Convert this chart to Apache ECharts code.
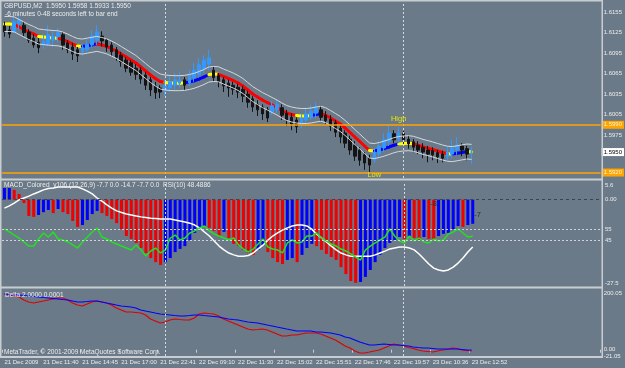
<!DOCTYPE html>
<html><head><meta charset="utf-8">
<script src="https://cdn.jsdelivr.net/npm/echarts@6/dist/echarts.min.js"></script>
<style>html,body{margin:0;padding:0;background:#6b7a88}#c{width:625px;height:368px}</style>
</head><body><div id="c"></div>
<script>
const timeLabels = ["21 Dec 2009","21 Dec 11:40","21 Dec 14:45","21 Dec 17:00","21 Dec 22:41","22 Dec 09:10","22 Dec 11:30","22 Dec 15:02","22 Dec 15:51","22 Dec 17:46","22 Dec 19:57","23 Dec 10:36","23 Dec 12:52"];
// [open, close, low, high]
const candles = [
[1.6135,1.6126,1.6119,1.6141],[1.6129,1.6123,1.6117,1.6135],[1.6126,1.6141,1.6125,1.6151],[1.6138,1.6144,1.6129,1.6149],
[1.6136,1.6125,1.6120,1.6141],[1.6126,1.6114,1.6110,1.6130],[1.6117,1.6107,1.6103,1.6123],[1.6111,1.6103,1.6095,1.6117],
[1.6107,1.6113,1.6101,1.6122],[1.6108,1.6122,1.6105,1.6136],[1.6114,1.6120,1.6104,1.6129],[1.6119,1.6125,1.6111,1.6132],
[1.6122,1.6107,1.6100,1.6126],[1.6110,1.6100,1.6095,1.6114],[1.6104,1.6094,1.6085,1.6110],[1.6100,1.6091,1.6082,1.6104],
[1.6097,1.6103,1.6092,1.6108],[1.6100,1.6108,1.6097,1.6117],[1.6107,1.6120,1.6103,1.6129],[1.6114,1.6126,1.6107,1.6136],
[1.6120,1.6113,1.6105,1.6127],[1.6114,1.6104,1.6097,1.6117],[1.6107,1.6097,1.6091,1.6111],[1.6100,1.6089,1.6084,1.6104],
[1.6092,1.6082,1.6075,1.6097],[1.6085,1.6073,1.6067,1.6089],[1.6081,1.6067,1.6062,1.6085],[1.6073,1.6064,1.6056,1.6079],
[1.6070,1.6057,1.6050,1.6075],[1.6063,1.6048,1.6041,1.6067],[1.6056,1.6041,1.6032,1.6060],[1.6047,1.6037,1.6028,1.6053],
[1.6044,1.6038,1.6029,1.6048],[1.6041,1.6047,1.6032,1.6056],[1.6044,1.6053,1.6038,1.6062],[1.6048,1.6056,1.6041,1.6066],
[1.6051,1.6056,1.6044,1.6067],[1.6056,1.6048,1.6041,1.6060],[1.6051,1.6062,1.6047,1.6070],[1.6059,1.6070,1.6053,1.6081],
[1.6064,1.6078,1.6059,1.6088],[1.6072,1.6085,1.6066,1.6092],[1.6079,1.6088,1.6070,1.6100],[1.6070,1.6059,1.6054,1.6075],
[1.6062,1.6053,1.6045,1.6066],[1.6056,1.6047,1.6038,1.6060],[1.6051,1.6044,1.6031,1.6056],[1.6048,1.6042,1.6034,1.6053],
[1.6045,1.6038,1.6029,1.6050],[1.6042,1.6032,1.6023,1.6047],[1.6035,1.6023,1.6015,1.6040],[1.6028,1.6016,1.6009,1.6032],
[1.6020,1.6012,1.6003,1.6026],[1.6016,1.6006,1.5997,1.6020],[1.6012,1.6000,1.5994,1.6016],[1.6009,1.6018,1.6004,1.6025],
[1.6012,1.6020,1.6007,1.6028],[1.6015,1.6004,1.5997,1.6020],[1.6007,1.5997,1.5988,1.6012],[1.6001,1.5991,1.5982,1.6007],
[1.5997,1.5987,1.5978,1.6001],[1.5991,1.6000,1.5985,1.6007],[1.5997,1.6006,1.5993,1.6015],[1.6001,1.6010,1.5997,1.6019],
[1.6007,1.6015,1.6000,1.6023],[1.6012,1.6001,1.5996,1.6018],[1.6004,1.5996,1.5990,1.6010],[1.5998,1.5988,1.5981,1.6004],
[1.5993,1.5979,1.5972,1.5997],[1.5985,1.5972,1.5963,1.5990],[1.5978,1.5963,1.5956,1.5982],[1.5969,1.5953,1.5946,1.5974],
[1.5960,1.5944,1.5937,1.5966],[1.5953,1.5938,1.5930,1.5957],[1.5946,1.5934,1.5924,1.5950],[1.5941,1.5931,1.5921,1.5946],
[1.5938,1.5950,1.5934,1.5956],[1.5947,1.5959,1.5941,1.5966],[1.5956,1.5968,1.5950,1.5978],[1.5965,1.5978,1.5959,1.5990],
[1.5977,1.5968,1.5963,1.5982],[1.5969,1.5978,1.5963,1.5987],[1.5977,1.5968,1.5960,1.5981],[1.5969,1.5962,1.5955,1.5974],
[1.5965,1.5957,1.5950,1.5969],[1.5960,1.5953,1.5947,1.5966],[1.5957,1.5950,1.5941,1.5963],[1.5953,1.5947,1.5935,1.5959],
[1.5952,1.5946,1.5938,1.5957],[1.5949,1.5943,1.5934,1.5953],[1.5947,1.5941,1.5935,1.5952],[1.5943,1.5949,1.5938,1.5959],
[1.5947,1.5956,1.5941,1.5968],[1.5953,1.5960,1.5946,1.5972],[1.5959,1.5953,1.5944,1.5963],[1.5955,1.5947,1.5938,1.5959],
[1.5950,1.5950,1.5933,1.5958]
];
const ma = [1.61378,1.61378,1.61372,1.61334,1.61297,1.61260,1.61231,1.61194,1.61186,1.61178,1.61172,1.61168,1.61150,1.61120,1.61084,1.61055,1.61047,1.61060,1.61073,1.61086,
1.61070,1.61050,1.61018,1.60982,1.60938,1.60894,1.60850,1.60806,1.60747,1.60689,1.60630,1.60579,1.60535,1.60520,1.60513,1.60510,1.60510,1.60515,1.60527,1.60545,
1.60571,1.60601,1.60637,1.60645,1.60640,1.60608,1.60579,1.60549,1.60513,1.60469,1.60410,1.60351,1.60307,1.60263,1.60227,1.60190,1.60153,1.60110,1.60073,1.60051,
1.60036,1.60029,1.60029,1.60036,1.60050,1.60062,1.60040,1.60000,1.59956,1.59912,1.59853,1.59787,1.59721,1.59655,1.59589,1.59523,1.59515,1.59530,1.59550,1.59574,
1.59600,1.59618,1.59626,1.59630,1.59622,1.59600,1.59576,1.59558,1.59538,1.59516,1.59494,1.59476,1.59470,1.59482,1.59495,1.59508,1.59503];
const envUpper = [1.61488,1.61488,1.61482,1.61444,1.61407,1.61370,1.61341,1.61304,1.61296,1.61288,1.61282,1.61278,1.61260,1.61230,1.61194,1.61165,1.61157,1.61170,1.61183,1.61196,
1.61180,1.61160,1.61128,1.61092,1.61048,1.61004,1.60960,1.60916,1.60857,1.60799,1.60740,1.60689,1.60645,1.60630,1.60623,1.60620,1.60620,1.60625,1.60637,1.60655,
1.60681,1.60711,1.60747,1.60755,1.60750,1.60718,1.60689,1.60659,1.60623,1.60579,1.60520,1.60461,1.60417,1.60373,1.60337,1.60300,1.60263,1.60220,1.60183,1.60161,
1.60146,1.60139,1.60139,1.60146,1.60160,1.60172,1.60150,1.60110,1.60066,1.60022,1.59963,1.59897,1.59831,1.59765,1.59699,1.59633,1.59625,1.59640,1.59660,1.59684,
1.59710,1.59728,1.59736,1.59740,1.59732,1.59710,1.59686,1.59668,1.59648,1.59626,1.59604,1.59586,1.59580,1.59592,1.59605,1.59618,1.59613];
const envLower = [1.61268,1.61268,1.61262,1.61224,1.61187,1.61150,1.61121,1.61084,1.61076,1.61068,1.61062,1.61058,1.61040,1.61010,1.60974,1.60945,1.60937,1.60950,1.60963,1.60976,
1.60960,1.60940,1.60908,1.60872,1.60828,1.60784,1.60740,1.60696,1.60637,1.60579,1.60520,1.60469,1.60425,1.60410,1.60403,1.60400,1.60400,1.60405,1.60417,1.60435,
1.60461,1.60491,1.60527,1.60535,1.60530,1.60498,1.60469,1.60439,1.60403,1.60359,1.60300,1.60241,1.60197,1.60153,1.60117,1.60080,1.60043,1.60000,1.59963,1.59941,
1.59926,1.59919,1.59919,1.59926,1.59940,1.59952,1.59930,1.59890,1.59846,1.59802,1.59743,1.59677,1.59611,1.59545,1.59479,1.59413,1.59405,1.59420,1.59440,1.59464,
1.59490,1.59508,1.59516,1.59520,1.59512,1.59490,1.59466,1.59448,1.59428,1.59406,1.59384,1.59366,1.59360,1.59372,1.59385,1.59398,1.59393];
const macdHist = [3.7,3.7,3.1,1.8,-1.1,-5.2,-5.5,-4.9,-4.0,-3.3,-4.3,-3.0,-4.0,-4.6,-6.8,-8.7,-8.1,-6.5,-4.6,-3.6,
-4.3,-5.2,-6.2,-7.5,-9.4,-11.6,-12.5,-13.8,-15.4,-17.0,-18.6,-19.9,-20.8,-19.9,-18.6,-16.7,-15.7,-14.8,-12.9,-10.6,
-9.7,-8.4,-9.0,-10.0,-11.6,-10.3,-12.2,-14.1,-14.8,-16.0,-17.0,-17.6,-16.0,-14.5,-16.7,-18.6,-19.9,-20.5,-19.2,-18.6,
-19.9,-17.6,-15.4,-14.1,-14.8,-16.0,-17.3,-18.3,-19.2,-21.5,-23.7,-25.9,-26.5,-26.2,-24.6,-22.4,-19.9,-17.6,-15.4,-13.8,
-12.9,-11.9,-12.5,-11.6,-12.2,-12.9,-11.9,-12.5,-12.9,-11.6,-10.9,-10.6,-9.4,-8.4,-8.7,-8.1,-7.7];
const macdSignal = [-2.7,-2.0,-1.1,-0.1,0.5,1.1,1.8,2.4,3.1,3.5,3.7,4.0,4.0,4.0,4.0,4.0,3.4,2.7,1.8,0.5,
-0.5,-1.7,-2.7,-3.6,-4.1,-4.6,-4.9,-5.2,-5.5,-5.7,-5.9,-6.0,-6.2,-6.2,-6.2,-6.5,-6.8,-7.1,-7.5,-8.1,
-9.0,-10.3,-11.6,-13.2,-14.8,-16.0,-17.0,-17.6,-18.0,-18.0,-17.8,-17.0,-15.7,-14.5,-12.9,-11.6,-10.6,-9.7,-9.0,-8.4,
-8.1,-8.1,-8.4,-9.4,-11.0,-12.2,-13.5,-14.8,-16.0,-17.0,-17.6,-18.0,-18.0,-18.0,-18.0,-18.0,-17.6,-17.0,-16.4,-15.7,
-15.4,-15.1,-15.1,-15.4,-16.0,-17.3,-18.9,-20.5,-21.8,-22.4,-22.7,-22.4,-21.5,-20.2,-18.6,-16.7,-15.1];
const rsi = [55.0,52.3,49.5,46.8,43.2,39.5,39.5,45.9,51.4,47.7,52.3,45.9,45.0,43.2,40.5,37.7,43.2,47.7,52.3,55.9,
47.7,45.9,43.2,41.4,39.5,37.7,35.9,40.5,35.9,30.5,35.0,37.7,33.2,35.9,46.8,49.5,45.0,46.8,51.4,53.2,
55.9,57.7,53.2,50.5,48.6,46.8,45.0,46.8,40.5,36.8,34.1,36.8,41.4,45.9,38.6,36.8,35.9,33.2,42.3,45.0,
42.3,43.2,48.6,48.6,51.4,46.8,44.1,41.4,39.5,36.8,35.0,32.3,29.5,26.8,35.9,39.5,42.3,45.0,47.7,55.0,
48.6,44.1,42.3,48.6,44.1,46.8,43.2,42.3,45.9,44.1,45.0,50.5,52.3,55.0,51.4,47.7,48.5];
const deltaBlue = [186.7,185.0,183.3,183.3,181.6,180.0,178.3,176.6,174.9,173.3,171.6,169.9,168.2,166.6,163.2,159.9,159.9,161.5,163.2,163.2,
159.9,156.5,153.2,149.8,146.5,144.8,143.1,139.8,133.1,129.7,126.4,123.0,119.7,118.0,116.3,114.6,113.0,113.0,114.6,116.3,
116.3,114.6,113.0,111.3,109.6,106.3,102.9,101.2,99.6,96.2,92.9,91.2,89.5,86.2,82.8,79.5,76.1,72.8,69.4,66.1,
62.7,62.7,62.7,62.7,59.4,59.4,57.7,56.0,52.7,49.3,42.6,39.3,32.6,25.9,20.8,15.8,15.8,17.5,19.2,17.5,
15.8,15.8,14.1,12.5,9.1,7.4,5.8,5.8,4.1,2.4,2.4,2.4,2.4,2.4,0.7,-1.0,-1.0];
const deltaRed = [186.7,183.3,180.0,176.6,166.6,159.9,156.5,159.9,163.2,166.6,169.9,173.3,173.3,166.6,156.5,149.8,146.5,153.2,159.9,163.2,
159.9,156.5,149.8,139.8,133.1,126.4,126.4,124.7,123.0,116.3,102.9,96.2,89.5,92.9,99.6,102.9,101.2,99.6,99.6,106.3,
119.7,123.0,121.3,119.7,113.0,102.9,96.2,89.5,82.8,76.1,69.4,66.1,67.7,69.4,66.1,59.4,52.7,46.0,46.0,49.3,
49.3,52.7,56.0,56.0,56.0,52.7,46.0,39.3,32.6,22.5,12.5,5.8,-4.3,-11.0,-11.0,-7.7,-4.3,-1.0,5.8,12.5,
19.2,15.8,12.5,7.4,4.1,-1.0,-4.3,-6.0,-7.7,-4.3,-1.0,0.7,5.8,4.1,-1.0,-2.6,-4.3];
const priceTicks = [1.6155,1.6125,1.6095,1.6065,1.6035,1.6005,1.5975];
const macdTicks = [5.6, 0, -27.5];
const rsiLevels = [55, 45];
const deltaTicks = [200.05, 0, -21.05];
const highLevel = 1.5990, lowLevel = 1.5920, lastPrice = 1.5950;
const separators = [33, 82];
const SLOTS = 123;

const categories = Array.from({length: SLOTS}, (_, i) => (i % 8 === 0 && i / 8 < timeLabels.length) ? timeLabels[i / 8] : '');
const FONT = "'Liberation Sans', Arial, sans-serif";
const TXT = '#ececec';
const BORDER = '#c9cdd2';
const gridDefs = [
  {left: 2, top: 2, width: 600, height: 176},
  {left: 2, top: 182, width: 600, height: 104},
  {left: 2, top: 179.5, width: 600, height: 110},
  {left: 2, top: 290, width: 600, height: 66}
];
const richShift = {
  dn: {padding: [7, 0, 0, 0], color: TXT, fontSize: 6, fontFamily: FONT},
  up: {padding: [0, 0, 5, 0], color: TXT, fontSize: 6, fontFamily: FONT}
};
function xAx(i, show) {
  return {type: 'category', gridIndex: i, data: categories, boundaryGap: true,
    axisLine: {show: false}, splitLine: {show: false},
    axisTick: {show: show, length: 3, lineStyle: {color: BORDER}, interval: (idx, v) => v !== ''},
    axisLabel: {show: show, interval: (idx, v) => v !== '', align: 'left', margin: 3, color: TXT, fontSize: 6, fontFamily: FONT}};
}
function yAx(i, min, max, ticks, fmt) {
  return {type: 'value', gridIndex: i, position: 'right', min: min, max: max,
    axisLine: {show: false}, splitLine: {show: false}, axisTick: {show: false},
    axisLabel: {show: true, customValues: ticks, formatter: fmt, margin: 3, color: TXT, fontSize: 6, fontFamily: FONT, rich: richShift, hideOverlap: false}};
}
const sepStyle = {color: '#d8dbe0', type: [2, 2], width: 1};
const sepLine = {symbol: ['none', 'none'], silent: true, label: {show: false}, precision: 4,
  lineStyle: sepStyle, data: separators.map(s => ({xAxis: s}))};
function priceBox(v, bg, fg) {
  return {yAxis: v, label: {show: true, position: 'end', formatter: v.toFixed(4), backgroundColor: bg, color: fg,
    fontSize: 6, fontFamily: FONT, padding: [1, 2], distance: 1}};
}

const option = {
  animation: false,
  backgroundColor: '#6b7a88',
  grid: gridDefs,
  xAxis: [xAx(0, false), xAx(1, false), xAx(2, false), xAx(3, true)],
  yAxis: [
    yAx(0, 1.5912, 1.6170, priceTicks, v => v.toFixed(4)),
    yAx(1, -27.5, 5.6, macdTicks, v => v === 0 ? '0.00' : (v > 0 ? '{dn|' + v + '}' : '{up|' + v + '}')),
    yAx(2, 0, 100, rsiLevels, v => String(v)),
    yAx(3, -21.05, 200.05, deltaTicks, v => v === 0 ? '0.00' : (v > 0 ? '{dn|' + v.toFixed(2) + '}' : v.toFixed(2)))
  ],
  series: [
    {type: 'candlestick', xAxisIndex: 0, yAxisIndex: 0, data: candles, barWidth: 3,
      itemStyle: {color: '#3399ff', color0: '#141414', borderColor: '#3399ff', borderColor0: '#141414', borderWidth: 1},
      markLine: sepLine},
    {type: 'line', xAxisIndex: 0, yAxisIndex: 0, data: envUpper, symbol: 'none',
      lineStyle: {color: '#d4d8de', width: 1},
      markLine: {symbol: ['none', 'none'], silent: true, precision: 4,
        lineStyle: {color: '#ffa500', width: 1.5, type: 'solid'},
        data: [priceBox(highLevel, '#ffa500', '#fff3d0'), priceBox(lowLevel, '#ffa500', '#fff3d0')]},
      markPoint: {symbol: 'rect', symbolSize: 1, itemStyle: {color: 'rgba(0,0,0,0)'},
        label: {show: true, position: 'inside', formatter: p => p.name, color: '#e6e600', fontSize: 7.5, fontFamily: FONT},
        data: [{name: 'High', coord: [81, 1.59985]}, {name: 'Low', coord: [76, 1.59163]}]}},
    {type: 'line', xAxisIndex: 0, yAxisIndex: 0, data: envLower, symbol: 'none',
      lineStyle: {color: '#d4d8de', width: 1},
      markLine: {symbol: ['none', 'none'], silent: true, precision: 4,
        lineStyle: {color: 'rgba(0,0,0,0)', width: 1},
        data: [priceBox(lastPrice, '#ffffff', '#000000')]}},
    {type: 'custom', xAxisIndex: 0, yAxisIndex: 0,
      data: ma.map((v, i) => [i, v, i > 0 ? ma[i - 1] : v]), encode: {x: 0, y: 1},
      renderItem: function (params, api) {
        const i = api.value(0);
        if (i === 0) return null;
        const p1 = api.coord([i - 1, api.value(2)]);
        const p2 = api.coord([i, api.value(1)]);
        const d = api.value(1) - api.value(2);
        const col = d > 0.0001 ? '#0000ff' : (d < -0.0001 ? '#ff0000' : '#ffff00');
        return {type: 'line', shape: {x1: p1[0], y1: p1[1], x2: p2[0], y2: p2[1]},
          style: {stroke: col, lineWidth: 3, lineCap: 'round'}};
      }},
    {type: 'bar', xAxisIndex: 1, yAxisIndex: 1, data: macdHist, barWidth: 3,
      itemStyle: {color: p => (p.dataIndex > 0 && macdHist[p.dataIndex] < macdHist[p.dataIndex - 1]) ? '#f00000' : '#0000ff'},
      markLine: {symbol: ['none', 'none'], silent: true, label: {show: false}, precision: 4,
        data: [{yAxis: 0, lineStyle: {color: '#3c444c', type: [3, 3], width: 1}}].concat(separators.map(s => ({xAxis: s, lineStyle: sepStyle})))},
      markPoint: {symbol: 'rect', symbolSize: 1, itemStyle: {color: 'rgba(0,0,0,0)'},
        label: {show: true, position: 'inside', formatter: p => p.name, color: '#2a2e33', fontSize: 7.5, fontFamily: FONT},
        data: [{name: '-7', coord: [97, -4.9]}, {name: '-8', coord: [88, -1.4]}]}},
    {type: 'line', xAxisIndex: 1, yAxisIndex: 1, data: macdSignal, symbol: 'none',
      lineStyle: {color: '#ffffff', width: 1.5}},
    {type: 'line', xAxisIndex: 2, yAxisIndex: 2, data: rsi, symbol: 'none',
      lineStyle: {color: '#22e022', width: 1.5},
      markLine: {symbol: ['none', 'none'], silent: true, label: {show: false}, precision: 4,
        lineStyle: {color: '#d0d4d8', type: [2, 2], width: 1},
        data: rsiLevels.map(v => ({yAxis: v}))}},
    {type: 'line', xAxisIndex: 3, yAxisIndex: 3, data: deltaRed, symbol: 'none',
      lineStyle: {color: '#e00000', width: 1.2}, markLine: sepLine},
    {type: 'line', xAxisIndex: 3, yAxisIndex: 3, data: deltaBlue, symbol: 'none',
      lineStyle: {color: '#0000ff', width: 1.2}}
  ],
  graphic: [
    {type: 'rect', z: 100, silent: true, shape: {x: 0, y: 0, width: 602, height: 1.5}, style: {fill: BORDER}},
    {type: 'rect', z: 100, silent: true, shape: {x: 0, y: 178.5, width: 602, height: 2}, style: {fill: BORDER}},
    {type: 'rect', z: 100, silent: true, shape: {x: 0, y: 286.5, width: 602, height: 2}, style: {fill: BORDER}},
    {type: 'rect', z: 100, silent: true, shape: {x: 0, y: 356, width: 602, height: 2}, style: {fill: BORDER}},
    {type: 'rect', z: 100, silent: true, shape: {x: 0, y: 0, width: 1.5, height: 358}, style: {fill: BORDER}},
    {type: 'rect', z: 100, silent: true, shape: {x: 601.5, y: 0, width: 1.5, height: 358}, style: {fill: BORDER}},
    {type: 'text', z: 101, left: 4, top: 3, style: {text: 'GBPUSD,M2  1.5950 1.5958 1.5933 1.5950', fill: TXT, fontSize: 6.5, fontFamily: FONT}},
    {type: 'text', z: 101, left: 5, top: 10.5, style: {text: '-6 minutes 0-48 seconds left to bar end', fill: TXT, fontSize: 6.5, fontFamily: FONT}},
    {type: 'text', z: 101, left: 4, top: 182, style: {text: 'MACD_Colored_v106 (12,26,9) -7.7 0.0 -14.7 -7.7 0.0  RSI(10) 48.4886', fill: TXT, fontSize: 6.5, fontFamily: FONT}},
    {type: 'text', z: 101, left: 5, top: 292, style: {text: 'Delta 2.0000 0.0001', fill: TXT, fontSize: 6.5, fontFamily: FONT}},
    {type: 'text', z: 101, left: 4, top: 349, style: {text: 'MetaTrader, \u00a9 2001-2009 MetaQuotes Software Corp.', fill: TXT, fontSize: 6.5, fontFamily: FONT}}
  ]
};
const chart = echarts.init(document.getElementById('c'), null, {renderer: 'canvas'});
chart.setOption(option);
</script></body></html>
